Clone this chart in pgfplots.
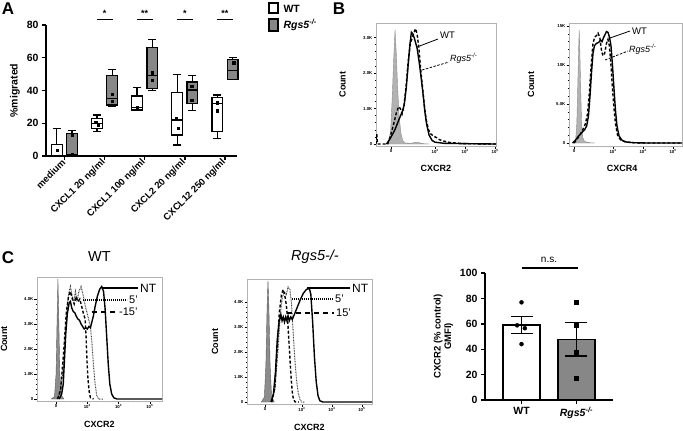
\documentclass[border=0pt]{standalone}
\usepackage{fontspec}
\setmainfont{Liberation Sans}
\usepackage{pgfplots}
\pgfplotsset{compat=1.18}
\begin{document}
\begin{tikzpicture}
\path[use as bounding box] (0,0) rectangle (683pt,-431pt);
\pgfplotsset{
  flow/.style={scale only axis, axis line style={gray!60, line width=0.5pt},
    tick align=outside, xtick pos=bottom, ytick pos=left,
    tick style={black, line width=0.5pt}, major tick length=2.5pt, minor tick length=1.4pt,
    /pgf/number format/assume math mode=true,
    ticklabel style={font=\bfseries\fontsize{4.3}{5}\selectfont, inner sep=1pt},
    label style={font=\bfseries\fontsize{9}{10}\selectfont},
    xticklabels={0,10\textsuperscript{3},10\textsuperscript{4},10\textsuperscript{5}},
  },
  iso/.style={fill=black!30, draw=black!45, line width=0.4pt},
  isoC/.style={fill=black!45, draw=black!65, line width=0.4pt},
  sol/.style={black, line width=1.4pt},
  dsh/.style={black, line width=1.4pt, dash pattern=on 3pt off 2pt},
  dot/.style={black!75, line width=1pt, dash pattern=on 0.8pt off 0.8pt},
  bxl/.style={black, line width=1.2pt},
}
% box: #1 left, #2 centre, #3 right, #4 lower whisker, #5 q1, #6 median, #7 q3, #8 upper whisker, #9 fill
\newcommand\bx[9]{%
  \addplot[bxl] coordinates {(#2,#4)(#2,#5)};
  \addplot[bxl] coordinates {(#2,#7)(#2,#8)};
  \addplot[only marks, mark=-, mark size=4pt, mark options={line width=1.2pt}, black] coordinates {(#2,#4)(#2,#8)};
  \addplot[draw=black, fill=#9, line width=1.2pt] coordinates {(#1,#5)(#3,#5)(#3,#7)(#1,#7)} -- cycle;
  \addplot[bxl] coordinates {(#1,#6)(#3,#6)};
}
% ================= Panel A =================
\begin{axis}[at={(46pt,-156pt)}, anchor=south west, scale only axis,
  width=191pt, height=131pt, xmin=0.54, xmax=5.3, ymin=0, ymax=80,
  axis lines=left, axis line style={-, line width=1.4pt},
  tick align=outside, major tick length=4pt, tick style={line width=1.4pt, black},
  xtick={1,2,3,4,5},
  xticklabels={medium, CXCL1 20 ng/ml, CXCL1 100 ng/ml, CXCL2 20 ng/ml, CXCL12 250 ng/ml},
  xticklabel style={rotate=45, anchor=east, font=\bfseries\fontsize{9.5}{10}\selectfont, inner sep=1pt},
  ytick={0,20,40,60,80},
  yticklabel style={font=\bfseries\fontsize{10.5}{11}\selectfont},
  /pgf/number format/assume math mode=true,
  ylabel={\%migrated}, ylabel style={font=\bfseries\fontsize{10.5}{11}\selectfont},
  clip=false]
\bx{0.675}{0.81}{0.945}{0}{0}{0}{7}{17}{white}
\bx{1.055}{1.19}{1.325}{0}{0.5}{1}{13.5}{15.5}{black!47}
\bx{1.675}{1.81}{1.945}{15}{17}{20}{23}{25}{white}
\bx{2.055}{2.19}{2.325}{30.5}{31.2}{35}{49}{53}{black!47}
\bx{2.675}{2.81}{2.945}{28}{28.1}{29.5}{36.7}{42}{white}
\bx{3.055}{3.19}{3.325}{40}{41.3}{49}{66.2}{71}{black!47}
\bx{3.675}{3.81}{3.945}{6.7}{12.8}{22}{38.7}{50}{white}
\bx{4.055}{4.19}{4.325}{28}{32.2}{40.3}{45.2}{49}{black!47}
\bx{4.675}{4.81}{4.945}{10.8}{14.9}{32}{35.8}{37.2}{white}
\bx{5.055}{5.19}{5.325}{46.5}{46.8}{52}{59}{60}{black!47}
\addplot[only marks, mark=square*, mark size=1.1pt, black] coordinates {
 (0.81,3.3) (1.19,13) (1.19,1.2) (1.78,20.5) (1.84,19) (2.19,37.7) (2.19,33.6)
 (2.81,29.7) (3.19,50.9) (3.19,46.4) (3.79,23) (3.83,16.9) (4.17,42.8) (4.17,34.2)
 (4.81,32.6) (4.81,27.7) (5.22,57)};
\draw[line width=1.2pt] (axis cs:1.8,83.3) -- (axis cs:2.2,83.3);
\draw[line width=1.2pt] (axis cs:2.8,83.3) -- (axis cs:3.2,83.3);
\draw[line width=1.2pt] (axis cs:3.8,83.3) -- (axis cs:4.2,83.3);
\draw[line width=1.2pt] (axis cs:4.8,83.3) -- (axis cs:5.2,83.3);
\node[font=\bfseries\fontsize{9}{9}\selectfont] at (axis cs:2,86.8) {*};
\node[font=\bfseries\fontsize{9}{9}\selectfont] at (axis cs:3,86.8) {**};
\node[font=\bfseries\fontsize{9}{9}\selectfont] at (axis cs:4,86.8) {*};
\node[font=\bfseries\fontsize{9}{9}\selectfont] at (axis cs:5,86.8) {**};
\end{axis}
\node[font=\bfseries\fontsize{17}{17}\selectfont] at (8pt,-9pt) {A};
\draw[line width=1.2pt, fill=white] (269pt,-3pt) rectangle (278pt,-13pt);
\node[anchor=west, font=\bfseries\fontsize{10.5}{11}\selectfont] at (280pt,-8.5pt) {WT};
\draw[line width=1.2pt, fill=black!47] (269pt,-19pt) rectangle (278pt,-31pt);
\node[anchor=west, font=\bfseries\fontsize{10.5}{11}\selectfont] at (280pt,-25pt) {\textit{Rgs5}\textsuperscript{\textit{-/-}}};
% ================= Panel B =================
\node[font=\bfseries\fontsize{17}{17}\selectfont] at (339pt,-9pt) {B};
\begin{axis}[flow, at={(376pt,-146pt)}, anchor=south west, width=120pt, height=123pt,
  xmin=1.03, xmax=5.03, ymin=-0.056, ymax=3.41,
  xtick={1.53,3,4,5}, ytick={0,1,2,3}, yticklabels={0,1.0K,2.0K,3.0K}, minor y tick num=4,
  minor xtick={1.15,1.35,1.8,2.05,2.301,2.477,2.602,2.699,2.778,2.845,2.903,2.954,3.301,3.477,3.602,3.699,3.778,3.845,3.903,3.954,4.301,4.477,4.602,4.699,4.778,4.845,4.903,4.954},
  xlabel={CXCR2}, ylabel={Count},
  xlabel style={at={(axis description cs:0.5,-0.18)}, anchor=center},
  ylabel style={at={(axis description cs:-0.28,0.5)}, anchor=center}]
\addplot[iso] coordinates {(1.35,0)(1.45,0.03)(1.52,0.4)(1.57,1.3)(1.62,2.4)(1.665,3.22)(1.71,2.5)(1.75,1.6)(1.8,0.8)(1.86,0.3)(1.92,0.1)(2.0,0.03)(2.2,0.02)(2.35,0.05)(2.45,0.04)(2.6,0.01)(2.8,0)} \closedcycle;
\addplot[sol] coordinates {(1.38,0)(1.5,0.15)(1.66,0.4)(1.8,0.7)(1.9,0.9)(1.97,1.1)(2.04,1.6)(2.1,2.2)(2.16,2.8)(2.21,3.15)(2.26,3.1)(2.32,2.95)(2.4,2.7)(2.47,2.3)(2.53,1.9)(2.6,1.4)(2.66,0.9)(2.72,0.55)(2.8,0.25)(2.9,0.1)(3.0,0.05)(3.3,0.02)(4.0,0.01)(5.03,0)};
\addplot[dsh] coordinates {(1.03,0)(1.055,0.28)(1.08,0)(1.42,0)(1.5,0.2)(1.6,0.5)(1.7,0.85)(1.78,1.05)(1.84,1.0)(1.9,0.85)(1.96,1.05)(2.03,1.6)(2.1,2.3)(2.17,2.8)(2.24,3.0)(2.3,3.15)(2.35,3.25)(2.4,3.1)(2.46,2.7)(2.52,2.1)(2.58,1.6)(2.64,1.1)(2.7,0.7)(2.78,0.4)(2.86,0.28)(2.95,0.22)(3.05,0.18)(3.15,0.12)(3.3,0.08)(3.5,0.04)(4.0,0.01)(5.03,0)};
\end{axis}
\draw[line width=0.8pt] (417pt,-47pt) -- (438pt,-39pt);
\node[anchor=west, inner sep=1pt, font=\fontsize{9.5}{10}\selectfont] at (439pt,-35pt) {WT};
\draw[line width=0.8pt, dash pattern=on 2.5pt off 1.5pt] (422pt,-70pt) -- (449pt,-62pt);
\node[anchor=west, inner sep=1pt, font=\fontsize{9}{10}\selectfont] at (449pt,-58pt) {\textit{Rgs5}\textsuperscript{\textit{-/-}}};
\begin{axis}[flow, at={(569pt,-146pt)}, anchor=south west, width=113pt, height=123pt,
  xmin=1.53, xmax=5.3, ymin=-0.38, ymax=15.4,
  xtick={1.7,3,4,5}, ytick={0,5,10,15}, yticklabels={0,5.0K,10K,15K}, minor y tick num=4,
  minor xtick={2.0,2.15,2.301,2.477,2.602,2.699,2.778,2.845,2.903,2.954,3.301,3.477,3.602,3.699,3.778,3.845,3.903,3.954,4.301,4.477,4.602,4.699,4.778,4.845,4.903,4.954,5.301},
  xlabel={CXCR4}, ylabel={Count},
  xlabel style={at={(axis description cs:0.47,-0.18)}, anchor=center},
  ylabel style={at={(axis description cs:-0.336,0.5)}, anchor=center}]
\addplot[iso] coordinates {(1.65,0)(1.75,0.3)(1.79,2.5)(1.82,7)(1.85,12)(1.87,14.5)(1.89,12)(1.92,7)(1.95,2.5)(1.99,0.7)(2.05,0.2)(2.2,0.05)(2.4,0)} \closedcycle;
\addplot[sol] coordinates {(1.65,0)(1.75,0.4)(1.85,0.9)(1.95,1.3)(2.05,1.7)(2.12,2.2)(2.18,3.5)(2.23,6)(2.28,9)(2.33,11.5)(2.38,12.5)(2.45,12.8)(2.52,12.9)(2.58,13.2)(2.63,13.0)(2.68,13.5)(2.73,13.9)(2.78,14.3)(2.83,14.2)(2.88,13.6)(2.93,12.5)(2.98,10)(3.03,7)(3.08,4.2)(3.13,2.2)(3.2,0.9)(3.3,0.35)(3.45,0.12)(3.7,0.04)(4.2,0)(5.3,0)};
\addplot[dsh] coordinates {(1.7,0)(1.8,0.5)(1.9,1.1)(2.0,1.8)(2.08,2.5)(2.15,3.8)(2.21,6.5)(2.27,10)(2.33,12.8)(2.39,13.6)(2.45,13.8)(2.5,14.1)(2.56,13.5)(2.61,12)(2.66,11.2)(2.72,11.5)(2.78,12.8)(2.83,13.3)(2.88,12.4)(2.93,10)(2.98,7)(3.03,4.5)(3.08,2.5)(3.15,1.0)(3.25,0.4)(3.4,0.15)(3.7,0.04)(4.2,0)(5.3,0)};
\end{axis}
\draw[line width=0.8pt] (610pt,-38pt) -- (630pt,-31pt);
\node[anchor=west, inner sep=1pt, font=\fontsize{9.5}{10}\selectfont] at (631pt,-31pt) {WT};
\draw[line width=0.8pt, dash pattern=on 2.5pt off 1.5pt] (605pt,-60pt) -- (628pt,-51pt);
\node[anchor=west, inner sep=1pt, font=\fontsize{9}{10}\selectfont] at (628pt,-49pt) {\textit{Rgs5}\textsuperscript{\textit{-/-}}};
% ================= Panel C =================
\node[font=\bfseries\fontsize{17}{17}\selectfont] at (8pt,-258pt) {C};
\begin{axis}[flow, at={(37pt,-401pt)}, anchor=south west, width=125pt, height=124pt,
  xmin=1.39, xmax=5.39, ymin=-0.08, ymax=4.88,
  xtick={2,3,4,5}, ytick={0,1,2,3,4}, yticklabels={0,1.0K,2.0K,3.0K,4.0K},
  minor y tick num=4,
  minor xtick={1.55,1.75,2.301,2.477,2.602,2.699,2.778,2.845,2.903,2.954,3.301,3.477,3.602,3.699,3.778,3.845,3.903,3.954,4.301,4.477,4.602,4.699,4.778,4.845,4.903,4.954,5.301},
  xlabel={CXCR2}, ylabel={Count},
  xlabel style={at={(axis description cs:0.5,-0.185)}, anchor=center},
  ylabel style={at={(axis description cs:-0.264,0.5)}, anchor=center},
  title={WT}, title style={at={(axis description cs:0.5,1.12)}, anchor=center, font=\fontsize{14.5}{15}\selectfont}]
\addplot[isoC] coordinates {(1.85,0)(1.95,0.1)(2.0,1.0)(2.03,3.0)(2.06,4.8)(2.09,3.0)(2.12,1.0)(2.17,0.15)(2.25,0)} \closedcycle;
\addplot[dot] coordinates {(2.03,0)(2.15,0.3)(2.25,1.5)(2.33,3.2)(2.4,4.2)(2.46,4.5)(2.52,4.1)(2.57,3.9)(2.62,4.3)(2.67,3.9)(2.73,4.3)(2.8,4.5)(2.86,4.2)(2.92,3.8)(2.98,3.5)(3.04,3.2)(3.1,2.9)(3.15,2.2)(3.2,1.3)(3.25,0.6)(3.3,0.15)(3.36,0)(3.5,0)};
\addplot[dsh] coordinates {(2.05,0)(2.15,0.4)(2.25,2.0)(2.33,3.5)(2.4,4.1)(2.46,4.3)(2.52,4.0)(2.58,3.8)(2.64,4.1)(2.7,3.9)(2.76,4.0)(2.82,3.7)(2.88,3.4)(2.93,3.2)(2.96,2.5)(2.99,1.5)(3.02,0.8)(3.06,0.3)(3.1,0.05)(3.2,0)};
\addplot[sol] coordinates {(2.1,0)(2.18,0.2)(2.23,0.6)(2.27,1.6)(2.31,2.6)(2.36,3.4)(2.42,3.85)(2.46,3.9)(2.5,3.65)(2.55,3.5)(2.6,3.45)(2.65,3.3)(2.7,3.2)(2.75,3.15)(2.8,3.0)(2.85,2.9)(2.9,2.8)(2.95,2.85)(3.0,2.8)(3.05,2.9)(3.1,2.85)(3.15,3.1)(3.2,3.35)(3.25,3.7)(3.32,4.1)(3.4,4.4)(3.46,4.5)(3.52,4.3)(3.57,3.6)(3.62,2.5)(3.67,1.4)(3.72,0.6)(3.78,0.2)(3.85,0.05)(3.95,0)(5.39,0)};
\end{axis}
\draw[black, line width=1.4pt] (102pt,-288pt) -- (138pt,-288pt);
\node[anchor=west, inner sep=1pt, font=\fontsize{12}{12}\selectfont] at (139pt,-288pt) {NT};
\draw[black, line width=1.2pt, dash pattern=on 1.2pt off 0.8pt] (83pt,-300pt) -- (127pt,-300pt);
\node[anchor=west, inner sep=1pt, font=\fontsize{11}{11}\selectfont] at (128pt,-300pt) {5'};
\draw[black, line width=1.4pt, dash pattern=on 5pt off 4pt] (92pt,-312pt) -- (118pt,-312pt);
\node[anchor=west, inner sep=1pt, font=\fontsize{11}{11}\selectfont] at (118pt,-312pt) {-15'};
\begin{axis}[flow, at={(247pt,-404pt)}, anchor=south west, width=125pt, height=125pt,
  xmin=1.17, xmax=5.34, ymin=-0.08, ymax=4.92,
  xtick={1.77,3,4,5}, ytick={0,1,2,3,4}, yticklabels={0,1.0K,2.0K,3.0K,4.0K},
  minor y tick num=4,
  minor xtick={1.35,1.55,2.05,2.301,2.477,2.602,2.699,2.778,2.845,2.903,2.954,3.301,3.477,3.602,3.699,3.778,3.845,3.903,3.954,4.301,4.477,4.602,4.699,4.778,4.845,4.903,4.954,5.301},
  xlabel={CXCR2}, ylabel={Count},
  xlabel style={at={(axis description cs:0.5,-0.185)}, anchor=center},
  ylabel style={at={(axis description cs:-0.256,0.5)}, anchor=center},
  title={\textit{Rgs5-/-}}, title style={at={(axis description cs:0.544,1.128)}, anchor=center, font=\fontsize{14.5}{15}\selectfont}]
\addplot[isoC] coordinates {(1.65,0)(1.75,0.2)(1.8,1.5)(1.84,3.8)(1.87,4.85)(1.9,3.8)(1.94,1.5)(1.99,0.2)(2.08,0)} \closedcycle;
\addplot[dot] coordinates {(1.98,0)(2.1,0.5)(2.2,2.0)(2.28,3.5)(2.35,4.2)(2.42,4.4)(2.48,4.3)(2.54,4.6)(2.6,4.5)(2.65,4.0)(2.7,3.0)(2.76,1.8)(2.82,0.9)(2.88,0.35)(2.94,0.1)(3.0,0)(3.1,0)};
\addplot[dsh] coordinates {(2.0,0)(2.1,0.6)(2.18,2.2)(2.25,3.6)(2.32,4.3)(2.38,4.5)(2.44,4.2)(2.48,3.9)(2.52,3.4)(2.56,2.6)(2.6,1.8)(2.64,1.0)(2.68,0.4)(2.72,0.1)(2.78,0)(2.9,0)};
\addplot[sol] coordinates {(1.97,0)(2.05,0.3)(2.12,1.2)(2.18,2.5)(2.24,3.2)(2.3,3.5)(2.34,3.25)(2.38,3.4)(2.42,3.2)(2.46,3.4)(2.5,3.25)(2.54,3.45)(2.58,3.25)(2.63,3.4)(2.68,3.3)(2.75,3.5)(2.85,3.8)(2.95,4.1)(3.05,4.35)(3.15,4.5)(3.25,4.55)(3.3,4.3)(3.36,3.2)(3.42,1.8)(3.48,0.8)(3.54,0.25)(3.6,0.05)(3.7,0)(5.34,0)};
\end{axis}
\draw[black, line width=1.4pt] (307pt,-288pt) -- (350pt,-288pt);
\node[anchor=west, inner sep=1pt, font=\fontsize{12}{12}\selectfont] at (351pt,-288pt) {NT};
\draw[black, line width=1.2pt, dash pattern=on 1.2pt off 0.8pt] (292pt,-299pt) -- (333pt,-299pt);
\node[anchor=west, inner sep=1pt, font=\fontsize{11}{11}\selectfont] at (334pt,-299pt) {5'};
\draw[black, line width=1.4pt, dash pattern=on 5pt off 4pt] (287pt,-313pt) -- (334pt,-313pt);
\node[anchor=west, inner sep=1pt, font=\fontsize{11}{11}\selectfont] at (335pt,-313pt) {15'};
% ----- C bar chart -----
\begin{axis}[at={(485pt,-400pt)}, anchor=south west, scale only axis,
  width=128pt, height=127pt, xmin=0.336, xmax=2.664, ymin=0, ymax=100,
  axis lines=left, axis line style={-, line width=1.4pt},
  tick align=outside, major tick length=4pt, tick style={line width=1.4pt, black},
  xtick={1,2}, xticklabels={WT,\textit{Rgs5}\textsuperscript{\textit{-/-}}},
  ytick={0,20,40,60,80,100},
  ticklabel style={font=\bfseries\fontsize{10.5}{11}\selectfont},
  /pgf/number format/assume math mode=true,
  ylabel={CXCR2 (\% control)\\GMFI)},
  ylabel style={align=center, font=\bfseries\fontsize{9.5}{10.5}\selectfont},
  clip=false]
\addplot[ybar, bar width=37pt, bar shift=0pt, draw=black, fill=white, line width=1.4pt] coordinates {(1,59.1)};
\addplot[ybar, bar width=37pt, bar shift=0pt, draw=black, fill=black!47, line width=1.4pt] coordinates {(2,47.8)};
\addplot[black, line width=1.4pt] coordinates {(1,52.3)(1,65.9)};
\addplot[black, line width=1.4pt] coordinates {(2,34.5)(2,61.1)};
\addplot[only marks, mark=-, mark size=11pt, mark options={line width=1.4pt}, black] coordinates {(1,52.3)(1,65.9)(2,34.5)(2,61.1)};
\addplot[only marks, mark=*, mark size=2pt, black] coordinates {(1,76.9)(0.92,58.8)(1.06,56.5)(1,44)};
\addplot[only marks, mark=square*, mark size=2pt, black] coordinates {(2,77)(2,59)(2,37.9)(2,17.4)};
\draw[line width=1.2pt] (axis cs:1,104) -- (axis cs:2.02,104);
\node[font=\fontsize{10}{10}\selectfont] at (axis cs:1.5,110.5) {n.s.};
\end{axis}
\end{tikzpicture}
\end{document}
